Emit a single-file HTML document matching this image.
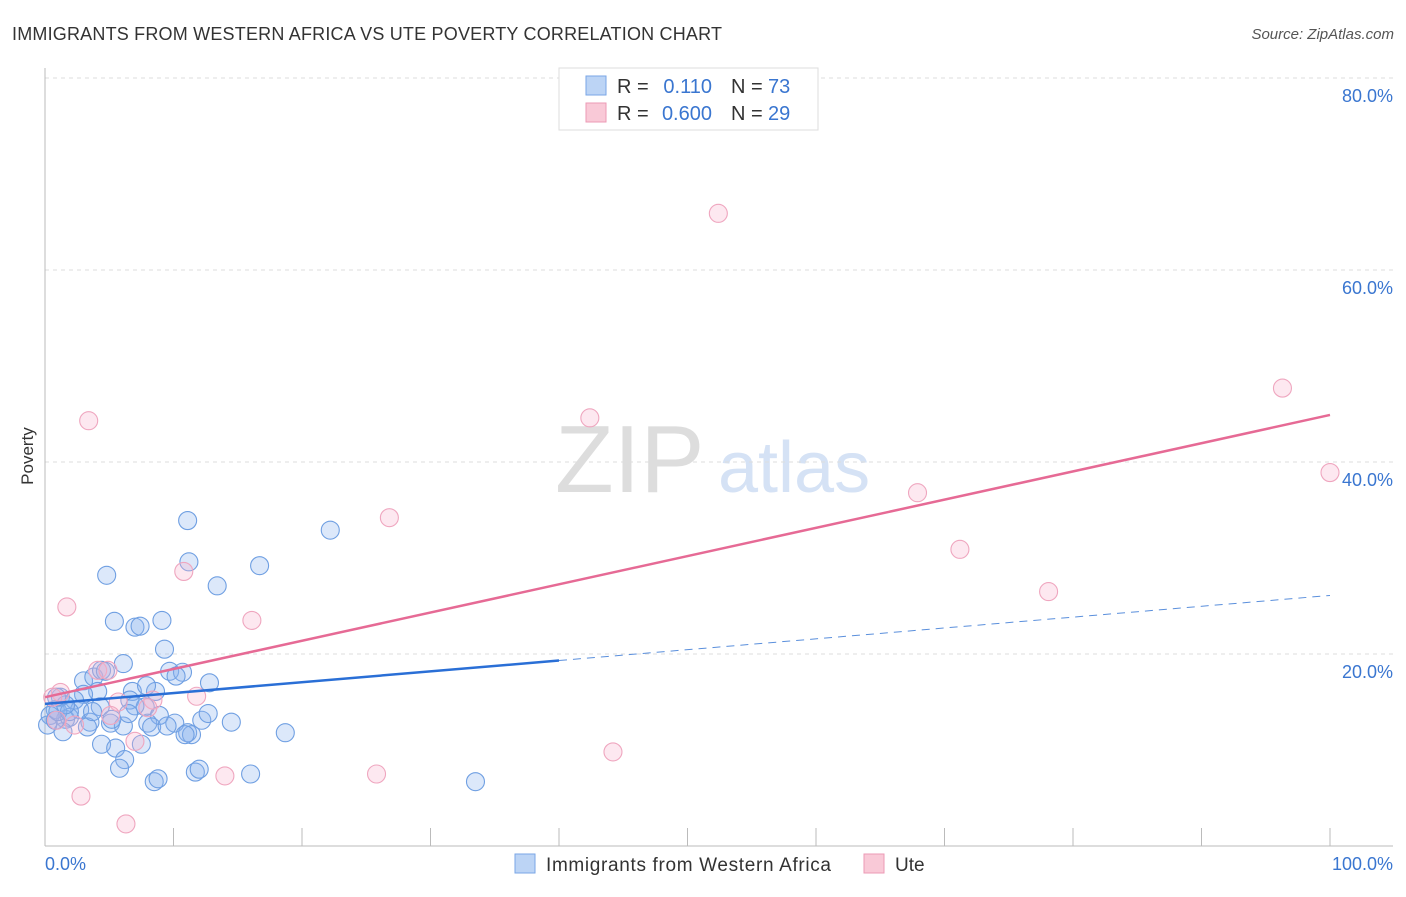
<!DOCTYPE html>
<html><head><meta charset="utf-8"><style>
body{margin:0;background:#fff;font-family:"Liberation Sans",sans-serif;}
svg text{font-family:"Liberation Sans",sans-serif;}
</style></head><body>
<svg id="chart" width="1406" height="892" xmlns="http://www.w3.org/2000/svg">
<text x="12" y="40" font-size="18" fill="#333" textLength="710">IMMIGRANTS FROM WESTERN AFRICA VS UTE POVERTY CORRELATION CHART</text>
<text x="1394" y="39" font-size="15" fill="#555" font-style="italic" text-anchor="end">Source: ZipAtlas.com</text>
<text x="33" y="456" font-size="17" fill="#333" transform="rotate(-90 33 456)" text-anchor="middle">Poverty</text>
<text x="555" y="492" font-size="96" fill="#ddd" font-family="Liberation Serif">ZIP</text>
<text x="718" y="492" font-size="72" fill="#d5e2f5">atlas</text>
<g id="grid"></g>
<g id="axes"></g>
<g id="pts"></g>
<g id="trends"></g>
<g>
<rect x="559" y="68" width="259" height="62" fill="#fff" stroke="#ddd"/>
<rect x="586" y="76" width="20" height="19" fill="#bcd4f5" stroke="#7aa6e6"/>
<rect x="586" y="103" width="20" height="19" fill="#f9c9d7" stroke="#ec9ab5"/>
<text x="617" y="93" font-size="20" fill="#333">R =</text>
<text x="712" y="93" font-size="20" fill="#3a76d0" text-anchor="end">0.110</text>
<text x="731" y="93" font-size="20" fill="#333">N =</text>
<text x="768" y="93" font-size="20" fill="#3a76d0">73</text>
<text x="617" y="120" font-size="20" fill="#333">R =</text>
<text x="712" y="120" font-size="20" fill="#3a76d0" text-anchor="end">0.600</text>
<text x="731" y="120" font-size="20" fill="#333">N =</text>
<text x="768" y="120" font-size="20" fill="#3a76d0">29</text>
</g>
<g>
<rect x="515" y="854" width="20" height="19" fill="#bcd4f5" stroke="#7aa6e6"/>
<text x="546" y="871" font-size="19" fill="#333" textLength="285">Immigrants from Western Africa</text>
<rect x="864" y="854" width="20" height="19" fill="#f9c9d7" stroke="#ec9ab5"/>
<text x="895" y="871" font-size="19" fill="#333">Ute</text>
</g>
</svg>
<script>
const blueX=[11.1,22.2,11.2,16.7,4.8,13.4,5.4,9.1,7.0,7.4,9.3,6.1,9.7,10.7,10.2,12.8,3.0,3.8,4.4,4.7,8.6,6.8,4.1,3.0,1.2,2.3,4.3,6.6,7.8,7.9,8.9,10.1,12.2,12.7,14.5,18.7,5.1,6.1,8.0,8.3,9.5,11.1,11.4,1.6,2.7,1.9,0.8,0.4,1.4,3.5,4.4,5.5,7.5,6.2,5.8,8.5,8.8,11.7,12.0,16.0,33.5,0.2,0.8,1.0,1.9,3.3,5.2,7.0,6.5,10.9,1.6,0.9,3.7];
const blueY=[33.9,32.9,29.6,29.2,28.2,27.1,23.4,23.5,22.8,22.9,20.5,19.0,18.2,18.1,17.7,17.0,17.2,17.6,18.3,18.2,16.1,16.1,16.1,15.8,15.5,15.2,14.5,15.2,14.5,16.7,13.6,12.8,13.1,13.8,12.9,11.8,12.8,12.5,12.8,12.4,12.5,11.8,11.6,13.2,14.2,13.4,14.2,13.6,11.9,12.9,10.6,10.2,10.6,9.0,8.1,6.7,7.0,7.7,8.0,7.5,6.7,12.6,13.1,14.0,14.0,12.4,13.2,14.6,13.8,11.6,14.7,15.5,14.0];
const pinkX=[52.4,96.3,100,42.4,3.4,26.8,67.9,71.2,78.1,10.8,1.7,16.1,4.1,4.9,1.2,0.6,5.7,8.4,8.0,11.8,2.3,7.0,44.2,14.0,25.8,2.8,6.3,5.1,0.9];
const pinkY=[65.9,47.7,38.9,44.6,44.3,34.2,36.8,30.9,26.5,28.6,24.9,23.5,18.3,18.3,16.0,15.5,15.0,15.2,14.4,15.6,12.6,10.9,9.8,7.3,7.5,5.2,2.3,13.6,13.1];
const blueTrend=[14.8,26.1]; // y at x=0 and x=100
const pinkTrend=[15.5,44.9];
const yTicks=[20,40,60,80];
const yTickLabels=["20.0%","40.0%","60.0%","80.0%"];
const xTicks=[0,10,20,30,40,50,60,70,80,90,100];

const NS="http://www.w3.org/2000/svg";
const sx=v=>45+v*12.85;
const sy=v=>846-v*9.6;
function mk(tag,attrs,parent){const e=document.createElementNS(NS,tag);for(const k in attrs)e.setAttribute(k,attrs[k]);parent.appendChild(e);return e;}
const grid=document.getElementById('grid'),axes=document.getElementById('axes'),pts=document.getElementById('pts'),tr=document.getElementById('trends');
yTicks.forEach((t,i)=>{
 const l=mk('line',{x1:45,x2:1393,y1:sy(t),y2:sy(t),stroke:'#ddd','stroke-dasharray':'4,4'},grid);
 
 
 const tx=mk('text',{x:1393,y:sy(t)+24,'font-size':18,fill:'#3a76d0','text-anchor':'end'},axes);
 tx.textContent=yTickLabels[i];
 
 
});
let a=mk('line',{x1:45,x2:45,y1:68,y2:846,stroke:'#bbb'},axes);


a=mk('line',{x1:45,x2:1393,y1:846,y2:846,stroke:'#bbb'},axes);


xTicks.forEach(t=>{
 const l=mk('line',{x1:sx(t),x2:sx(t),y1:828,y2:846,stroke:'#bbb'},axes);
 
 
});
let t0=mk('text',{x:45,y:870,'font-size':18,fill:'#3a76d0'},axes);t0.textContent='0.0%';


let t1=mk('text',{x:1393,y:870,'font-size':18,fill:'#3a76d0','text-anchor':'end'},axes);t1.textContent='100.0%';


blueX.forEach((x,i)=>{
 const c=mk('circle',{cx:sx(x),cy:sy(blueY[i]),r:9,fill:'rgba(140,180,240,0.3)',stroke:'#6f9fe2','stroke-width':1.1},pts);
 
 
});
pinkX.forEach((x,i)=>{
 const c=mk('circle',{cx:sx(x),cy:sy(pinkY[i]),r:9,fill:'rgba(248,180,205,0.3)',stroke:'#efa6bf','stroke-width':1.1},pts);
 
 
});
const by=x=>blueTrend[0]+(blueTrend[1]-blueTrend[0])*x/100;
let l=mk('line',{x1:sx(0),y1:sy(by(0)),x2:sx(40),y2:sy(by(40)),stroke:'#2a6fd6','stroke-width':2.5},tr);


l=mk('line',{x1:sx(40),y1:sy(by(40)),x2:sx(100),y2:sy(by(100)),stroke:'#5a8fdc','stroke-width':1,'stroke-dasharray':'8,6'},tr);


l=mk('line',{x1:sx(0),y1:sy(pinkTrend[0]),x2:sx(100),y2:sy(pinkTrend[1]),stroke:'#e66a95','stroke-width':2.5},tr);


</script>
</body></html>
